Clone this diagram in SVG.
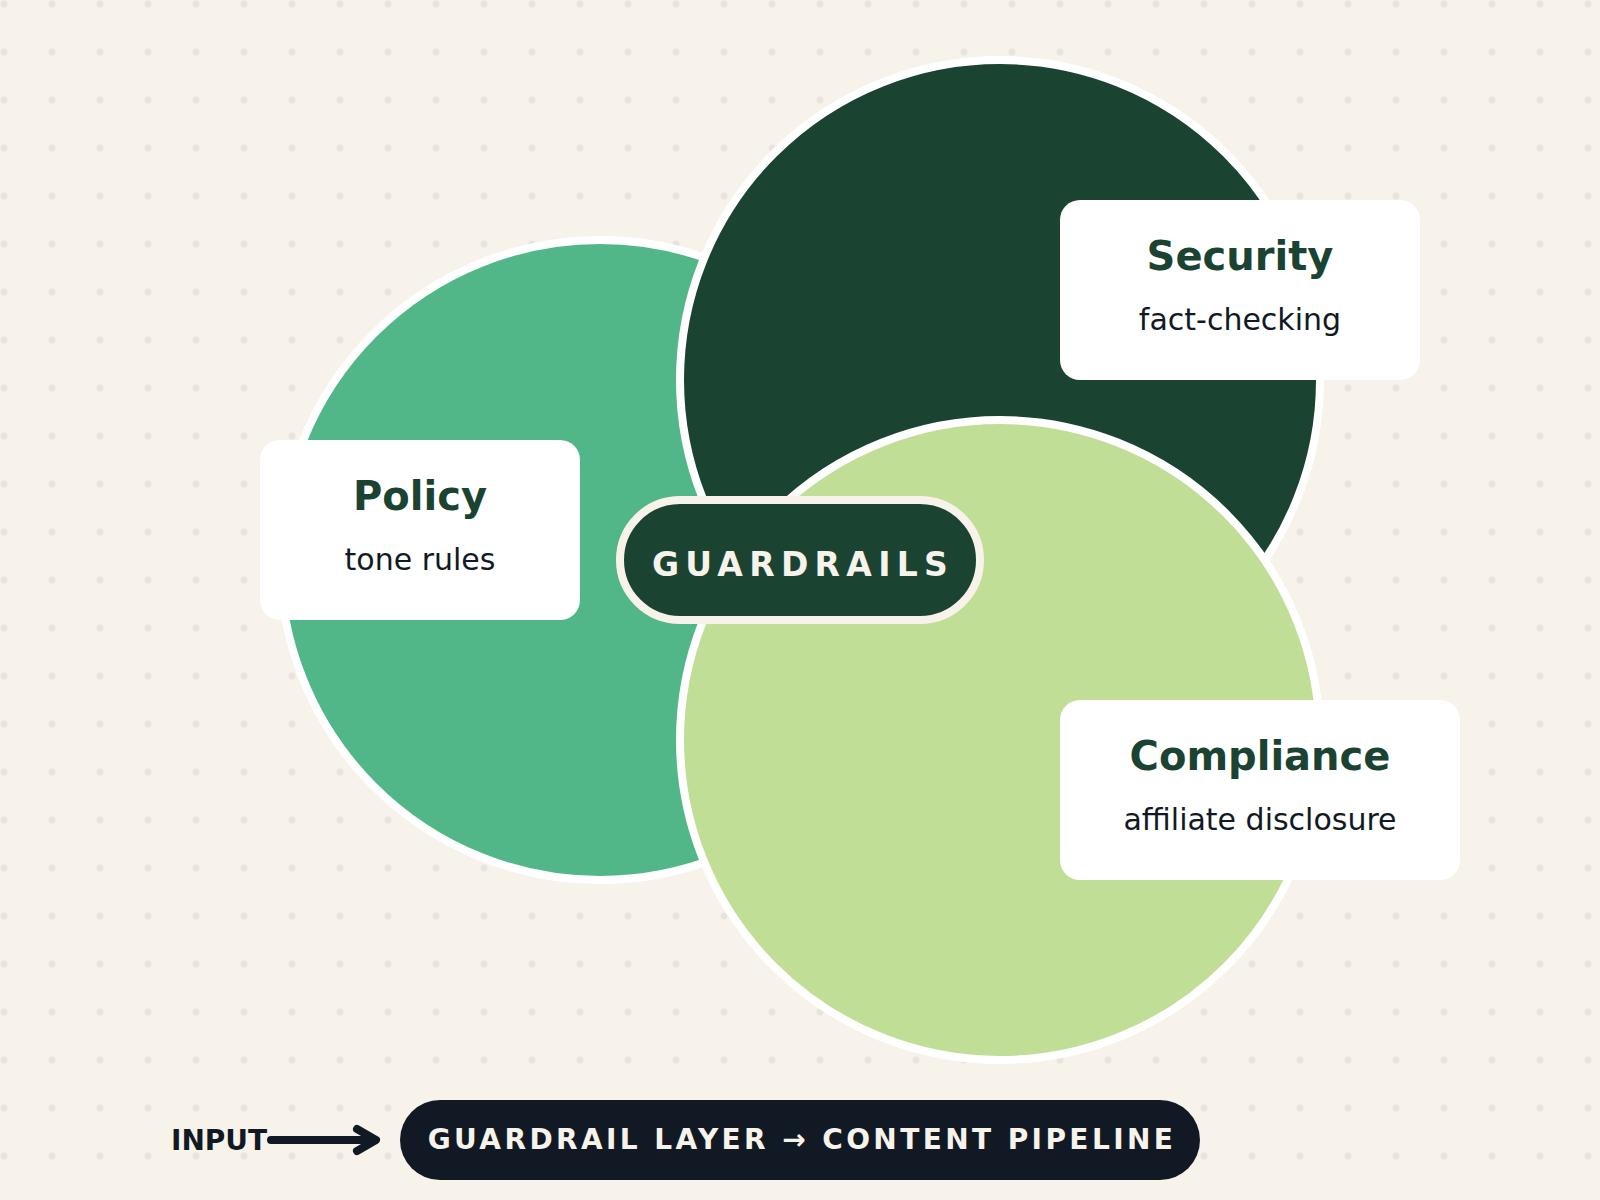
<svg xmlns="http://www.w3.org/2000/svg" width="1600" height="1200" viewBox="0 0 1600 1200">
<defs>
<pattern id="dots" x="0" y="0" width="48" height="48" patternUnits="userSpaceOnUse">
<circle cx="4" cy="4" r="3.5" fill="#e6e4dc"/>
</pattern>
<style>
.ring{stroke:#ffffff;stroke-width:8}
.box{fill:#ffffff}
.title{font-family:"DejaVu Sans",sans-serif;font-weight:bold;font-size:40px;fill:#1b4332;text-anchor:middle}
.sub{font-family:"DejaVu Sans",sans-serif;font-size:30px;fill:#111a24;text-anchor:middle}
.caps{font-family:"DejaVu Sans",sans-serif;font-weight:bold;fill:#f7f3ea;text-anchor:middle}
</style>
</defs>
<rect width="1600" height="1200" fill="#f7f3ea"/>
<rect width="1600" height="1200" fill="url(#dots)"/>

<g id="policy-circle"><circle class="ring" cx="600" cy="560" r="320" fill="#52b788"/></g>
<g id="security-circle"><circle class="ring" cx="1000" cy="380" r="320" fill="#1b4332"/></g>
<g id="compliance-circle"><circle class="ring" cx="1000" cy="740" r="320" fill="#c1de97"/></g>

<g id="policy">
<rect class="box" x="260" y="440" width="320" height="180" rx="20"/>
<text class="title" x="420" y="510">Policy</text>
<text class="sub" x="420" y="570">tone rules</text>
</g>
<g id="security">
<rect class="box" x="1060" y="200" width="360" height="180" rx="20"/>
<text class="title" x="1240" y="270">Security</text>
<text class="sub" x="1240" y="330">fact-checking</text>
</g>
<g id="compliance">
<rect class="box" x="1060" y="700" width="400" height="180" rx="20"/>
<text class="title" x="1260" y="770">Compliance</text>
<text class="sub" x="1260" y="830">affiliate disclosure</text>
</g>

<g id="guardrails">
<rect x="620" y="500" width="360" height="120" rx="60" fill="#1b4332" stroke="#f7f3ea" stroke-width="8"/>
<text class="caps" x="803" y="576" font-size="33" letter-spacing="6.3">GUARDRAILS</text>
</g>

<g id="input">
<text x="171" y="1150" font-family="DejaVu Sans, sans-serif" font-weight="bold" font-size="28" fill="#111a24">INPUT</text>
</g>

<g id="pipeline">
<rect x="400" y="1100" width="800" height="80" rx="40" fill="#111a24"/>
<text class="caps" x="802" y="1149" font-size="28" letter-spacing="3.4">GUARDRAIL LAYER → CONTENT PIPELINE</text>
</g>

<g id="connectors" fill="none" stroke="#111a24" stroke-width="8" stroke-linecap="round" stroke-linejoin="round">
<path d="M271 1140 H374"/>
<path d="M357 1129 L376 1140 L357 1151"/>
</g>
</svg>
